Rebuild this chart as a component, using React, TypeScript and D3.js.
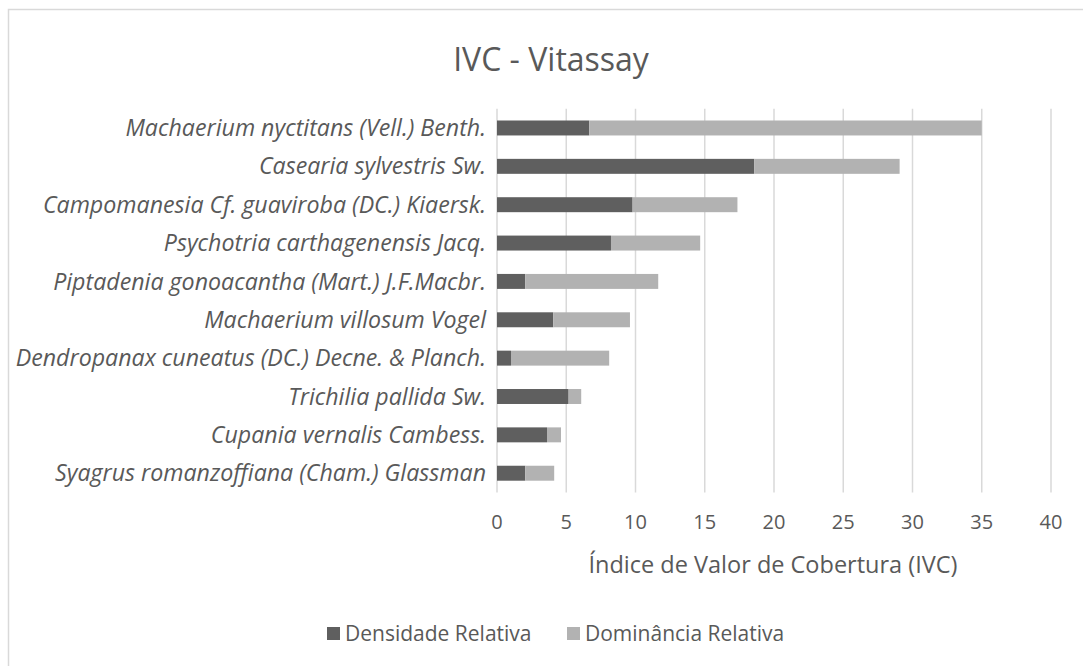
import React from "react";
import * as d3 from "d3";

const species = [
  "Machaerium nyctitans (Vell.) Benth.",
  "Casearia sylvestris Sw.",
  "Campomanesia Cf. guaviroba (DC.) Kiaersk.",
  "Psychotria carthagenensis Jacq.",
  "Piptadenia gonoacantha (Mart.) J.F.Macbr.",
  "Machaerium villosum Vogel",
  "Dendropanax cuneatus (DC.) Decne. & Planch.",
  "Trichilia pallida Sw.",
  "Cupania vernalis Cambess.",
  "Syagrus romanzoffiana (Cham.) Glassman",
];
const densidade = [6.66, 18.57, 9.79, 8.23, 2.04, 4.06, 1.01, 5.17, 3.61, 2.04];
const dominancia = [28.34, 10.5, 7.57, 6.44, 9.6, 5.54, 7.09, 0.91, 1.01, 2.09];
const xTicks = [0, 5, 10, 15, 20, 25, 30, 35, 40];
const seriesNames = ["Densidade Relativa", "Dominância Relativa"];
const colors = ["#5f5f5f", "#b2b2b2"];

const W = 1083;
const H = 666;
const FONT = "'Open Sans', sans-serif";
const TEXT = "#595959";

export default function App() {
  const x = d3.scaleLinear().domain([0, 40]).range([497, 1051]);
  const y = d3.scaleBand<string>().domain(species).range([108.8, 492.4]).paddingInner(0.61).paddingOuter(0.305);
  const rows = species.map((s, i) => ({ s, d: densidade[i], m: dominancia[i] }));
  const stack = d3.stack<any>().keys(["d", "m"])(rows);

  return (
    <svg width={W} height={H} style={{ position: "absolute", left: 0, top: 0, background: "#fff" }}>
      <rect x={8.5} y={9.5} width={W + 20} height={H + 20} fill="#fff" stroke="#d9d9d9" strokeWidth={1.5} />
      <text x={551} y={71} textAnchor="middle" fontFamily={FONT} fontSize={32} fill={TEXT}>IVC - Vitassay</text>
      {xTicks.map((t) => (
        <g key={t}>
          <line x1={x(t)} x2={x(t)} y1={108.8} y2={492.4} stroke="#d9d9d9" strokeWidth={1.5} />
          <text x={x(t)} y={522} dy="0.35em" textAnchor="middle" fontFamily={FONT} fontSize={20} fill={TEXT}>{t}</text>
        </g>
      ))}
      {stack.map((layer, li) => (
        <g key={li} fill={colors[li]}>
          {layer.map((seg, i) => (
            <rect key={i} x={x(seg[0])} y={y(species[i])!} width={x(seg[1]) - x(seg[0])} height={y.bandwidth()} />
          ))}
        </g>
      ))}
      {species.map((s) => (
        <text key={s} x={486} y={y(s)! + y.bandwidth() / 2} dy="0.35em" textAnchor="end" fontFamily={FONT} fontStyle="italic" fontSize={23.2} fill={TEXT}>{s}</text>
      ))}
      <text x={773} y={565} dy="0.35em" textAnchor="middle" fontFamily={FONT} fontSize={23.5} fill={TEXT}>Índice de Valor de Cobertura (IVC)</text>
      {seriesNames.map((n, i) => {
        const lx = i === 0 ? 327 : 567;
        return (
          <g key={n}>
            <rect x={lx} y={627} width={13} height={13} fill={colors[i]} />
            <text x={lx + 18} y={633.5} dy="0.35em" fontFamily={FONT} fontSize={21} fill={TEXT}>{n}</text>
          </g>
        );
      })}
    </svg>
  );
}
